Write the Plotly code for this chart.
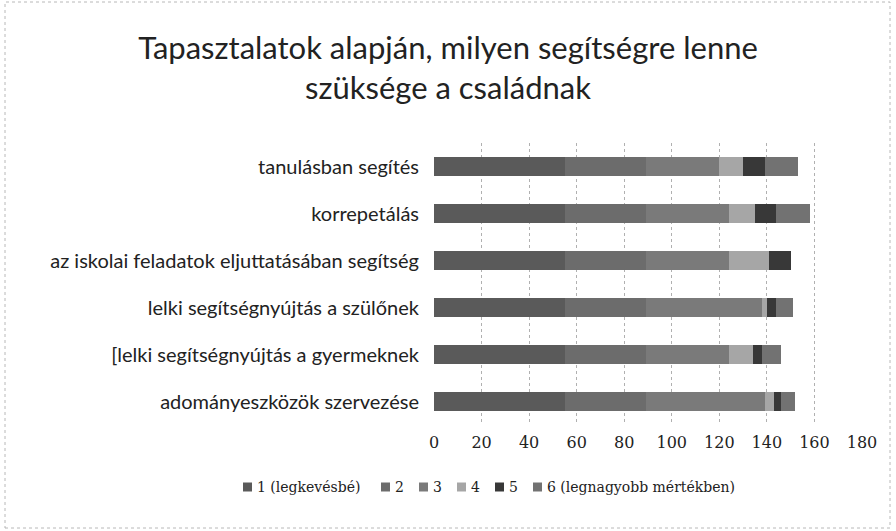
import plotly.graph_objects as go

categories = [
    "tanulásban segítés",
    "korrepetálás",
    "az iskolai feladatok eljuttatásában segítség",
    "lelki segítségnyújtás a szülőnek",
    "[lelki segítségnyújtás a gyermeknek",
    "adományeszközök szervezése",
]
series_names = ["1 (legkevésbé)", "2", "3", "4", "5", "6 (legnagyobb mértékben)"]
s1 = [55, 55, 55, 55, 55, 55]
s2 = [34, 34, 34, 34, 34, 34]
s3 = [31, 35, 35, 49, 35, 50]
s4 = [10, 11, 17, 2, 10, 4]
s5 = [9, 9, 9, 4, 4, 3]
s6 = [14, 14, 0, 7, 8, 6]
series_values = [s1, s2, s3, s4, s5, s6]
x_ticks = [0, 20, 40, 60, 80, 100, 120, 140, 160, 180]

colors = ["#5a5a5a", "#6c6c6c", "#7a7a7a", "#a6a6a6", "#383838", "#727272"]

W, H = 896, 531
L, R, T, B = 434, 34, 143, 106
PW, PH = W - L - R, H - T - B


def px_x(p):
    return (p - L) / PW


def px_y(p):
    return ((H - B) - p) / PH


fig = go.Figure()
for name, vals, col in zip(series_names, series_values, colors):
    fig.add_trace(go.Bar(
        y=categories, x=vals, name=name, orientation="h",
        marker=dict(color=col, line=dict(width=0)),
        showlegend=False,
    ))

# manual legend (compact, like the original)
legend_sym_x = [243, 381, 419, 457, 495, 533]
legend_y = 487
shapes = []
annotations = []
for name, col, sx in zip(series_names, colors, legend_sym_x):
    shapes.append(dict(type="rect", xref="paper", yref="paper",
                       x0=px_x(sx), x1=px_x(sx + 9),
                       y0=px_y(legend_y + 4.5), y1=px_y(legend_y - 4.5),
                       fillcolor=col, line=dict(width=0)))
    annotations.append(dict(xref="paper", yref="paper", x=px_x(sx + 12), y=px_y(legend_y),
                            xanchor="left", yanchor="middle", showarrow=False, text=name,
                            font=dict(family="DejaVu Serif, Liberation Serif, serif",
                                      size=14, color="#222")))

shapes.append(dict(type="rect", xref="paper", yref="paper",
                   x0=px_x(5), x1=px_x(890), y0=px_y(528), y1=px_y(2),
                   line=dict(color="#b8b8b8", width=1, dash="dot"), layer="below"))

fig.update_layout(
    width=W, height=H,
    barmode="stack", bargap=0.58,
    paper_bgcolor="white", plot_bgcolor="white",
    margin=dict(l=L, r=R, t=T, b=B, autoexpand=False),
    showlegend=False,
    title=dict(
        text="Tapasztalatok alapján, milyen segítségre lenne<br>szüksége a családnak",
        x=0.5, xanchor="center", y=1 - 59 / 531, yanchor="top",
        font=dict(family="Lato, Open Sans, sans-serif", size=31, color="#222"),
    ),
    xaxis=dict(
        range=[0, 180], tickvals=x_ticks, ticktext=[str(v) for v in x_ticks],
        showgrid=True, gridcolor="#b0b0b0", griddash="dot", gridwidth=1,
        zeroline=False, showline=False, ticks="", automargin=False,
        ticklabelstandoff=6,
        tickfont=dict(family="DejaVu Serif, Liberation Serif, serif", size=16, color="#222"),
    ),
    yaxis=dict(
        autorange="reversed", showgrid=False, showline=False, ticks="",
        automargin=False, ticklabelstandoff=14,
        tickfont=dict(family="Lato, Open Sans, sans-serif", size=20, color="#222"),
    ),
    shapes=shapes,
    annotations=annotations,
)

fig.write_html("out.html", config={"displayModeBar": False},
               post_script="document.body.style.margin='0';document.body.style.overflow='hidden';")
